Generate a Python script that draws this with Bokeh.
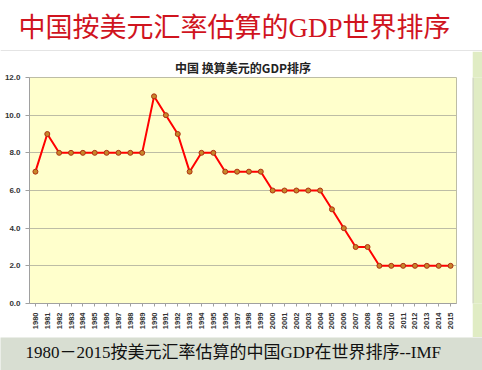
import math
from bokeh.plotting import figure
from bokeh.layouts import column, row
from bokeh.models import Range1d, Label, Span, FactorRange, NumeralTickFormatter
from bokeh.embed import file_html
from bokeh.resources import INLINE

years = ["1980", "1981", "1982", "1983", "1984", "1985", "1986", "1987", "1988", "1989",
         "1990", "1991", "1992", "1993", "1994", "1995", "1996", "1997", "1998", "1999",
         "2000", "2001", "2002", "2003", "2004", "2005", "2006", "2007", "2008", "2009",
         "2010", "2011", "2012", "2013", "2014", "2015"]
rank = [7, 9, 8, 8, 8, 8, 8, 8, 8, 8,
        11, 10, 9, 7, 8, 8, 7, 7, 7, 7,
        6, 6, 6, 6, 6, 5, 4, 3, 3, 2,
        2, 2, 2, 2, 2, 2]
y_ticks = [0, 2, 4, 6, 8, 10, 12]

main_title = "中国按美元汇率估算的GDP世界排序"
chart_title = "中国 换算美元的GDP排序"
caption = "1980－2015按美元汇率估算的中国GDP在世界排序--IMF"

SERIF = "Liberation Serif, Noto Sans CJK SC, serif"
SANS = "Noto Sans CJK SC, sans-serif"


def strip(w, h, bg):
    f = figure(width=w, height=h, x_range=Range1d(0, w), y_range=Range1d(0, h),
               output_backend="svg", toolbar_location=None,
               x_axis_location=None, y_axis_location=None,
               min_border=0, min_border_left=0, min_border_right=0,
               min_border_top=0, min_border_bottom=0)
    f.grid.visible = False
    f.outline_line_color = None
    f.background_fill_color = bg
    f.border_fill_color = bg
    return f


# --- top title strip ---
W = 482
TH = 51
pt = strip(W, TH, "white")
pt.add_layout(Label(x=18, y=24, x_units="screen", y_units="screen",
                    text=main_title, text_font=SERIF,
                    text_font_size="27px", text_color="#D0141E",
                    text_baseline="middle", text_align="left"))
pt.add_layout(Span(location=0.5, dimension="width", line_color="#C8C8C8", line_width=1))

# --- main chart ---
p = figure(width=472, height=286, x_range=FactorRange(*years), y_range=Range1d(0, 12),
           output_backend="svg", toolbar_location=None,
           min_border_left=29, min_border_right=16, min_border_top=26, min_border_bottom=34,
           background_fill_color="#FFFFCC", border_fill_color="white")
p.line(x=years, y=rank, line_color="#FF0000", line_width=2)
p.scatter(x=years, y=rank, size=5, fill_color="#C8862A", line_color="#B03010", line_width=1)

p.title.text = chart_title
p.title.align = "center"
p.title.text_font = SANS
p.title.text_font_size = "12px"
p.title.text_font_style = "bold"
p.title.text_color = "#222222"
p.title.offset = -7
p.title.standoff = 4

p.yaxis.ticker = y_ticks
p.yaxis.formatter = NumeralTickFormatter(format="0.0")
p.yaxis.major_label_text_font = "Liberation Sans"
p.yaxis.major_label_text_font_size = "8px"
p.yaxis.major_label_text_font_style = "bold"
p.yaxis.major_label_text_color = "#333333"
p.yaxis.major_label_standoff = 5
p.yaxis.major_tick_out = 4
p.yaxis.major_tick_in = 0
p.yaxis.minor_tick_out = 0
p.yaxis.minor_tick_in = 0

p.xaxis.major_label_orientation = math.pi / 2
p.xaxis.major_label_text_font = "Liberation Sans"
p.xaxis.major_label_text_font_size = "7.5px"
p.xaxis.major_label_text_font_style = "bold"
p.xaxis.major_label_text_color = "#333333"
p.xaxis.major_label_standoff = 6
p.xaxis.major_tick_out = 3
p.xaxis.major_tick_in = 0

p.axis.axis_line_color = "#A0A0A0"
p.axis.major_tick_line_color = "#A0A0A0"
p.xgrid.visible = False
p.ygrid.grid_line_color = "#BDBDA5"
p.outline_line_color = "#BDBDA5"

side = strip(10, 286, "#E0ECC4")
side.add_layout(Span(location=0.5, dimension="height", line_color="#C8C8C8", line_width=1))

# --- caption strip ---
CH = 33
pc = strip(W, CH, "#D8DED2")
pc.add_layout(Label(x=25, y=18, x_units="screen", y_units="screen",
                    text=caption, text_font=SERIF,
                    text_font_size="17px", text_color="#111111",
                    text_baseline="middle", text_align="left"))

layout = column(pt, row(p, side, spacing=0), pc, spacing=0)
open("out.html", "w").write(file_html(layout, INLINE))
